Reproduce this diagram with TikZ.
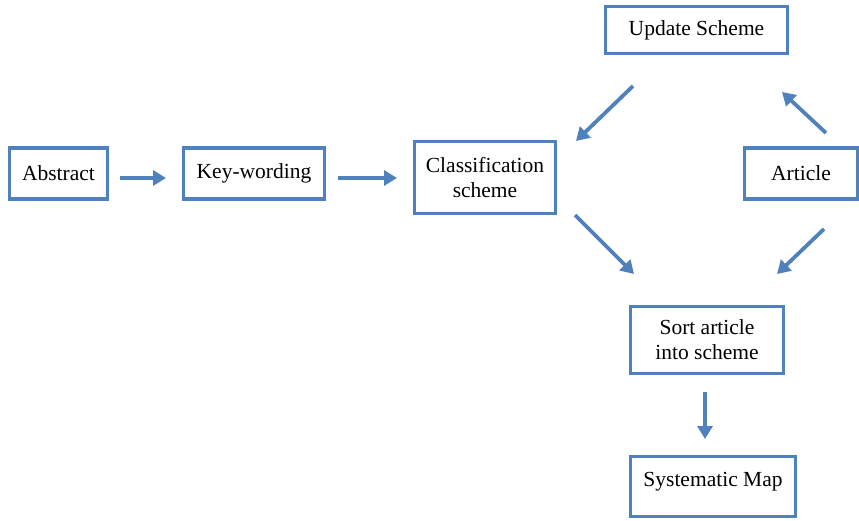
\documentclass[tikz,border=0pt]{standalone}
\usepackage{fontspec}
\setmainfont{Liberation Serif}
\usetikzlibrary{arrows.meta,shadows}
\definecolor{boxblue}{HTML}{4F81BD}
\begin{document}
\begin{tikzpicture}[x=1pt,y=-1pt,
  box/.style={draw=boxblue,line width=3.4pt,fill=white,align=center,
    font=\fontsize{21.5}{25}\selectfont,inner sep=0pt,
    drop shadow={opacity=0.25,shadow xshift=1pt,shadow yshift=-1.5pt,fill=black}},
  conn/.style={draw=boxblue,line width=3.8pt,-{Triangle[length=13pt,width=15pt]}}]
\useasboundingbox (0,0) rectangle (859,521);
\node[box,minimum width=98pt,minimum height=51pt] (abs) at (58.5,173.5) {Abstract};
\node[box,minimum width=141pt,minimum height=51pt] (key) at (254,173.5) {Key-wording};
\node[box,minimum width=141pt,minimum height=72pt] (cls) at (485,177.5) {Classification\\scheme};
\node[box,minimum width=182pt,minimum height=47pt] (upd) at (696.5,30) {Update Scheme};
\node[box,minimum width=113pt,minimum height=51pt] (art) at (801,173.5) {Article};
\node[box,minimum width=153pt,minimum height=67pt] (sort) at (707,340) {Sort article\\into scheme};
\node[box,minimum width=165pt,minimum height=60pt,text depth=14pt] (map) at (713,486.5) {Systematic Map};
\coordinate (a1s) at (120,178); \coordinate (a1e) at (166,178);
\coordinate (a2s) at (338,178); \coordinate (a2e) at (397,178);
\coordinate (a3s) at (633,86);  \coordinate (a3e) at (576,141);
\coordinate (a4s) at (826,133); \coordinate (a4e) at (782,92);
\coordinate (a5s) at (575,215); \coordinate (a5e) at (634,274);
\coordinate (a6s) at (824,229); \coordinate (a6e) at (777,274);
\coordinate (a7s) at (705,392); \coordinate (a7e) at (705,439);
\draw[conn] (a1s) -- (a1e);
\draw[conn] (a2s) -- (a2e);
\draw[conn] (a3s) -- (a3e);
\draw[conn] (a4s) -- (a4e);
\draw[conn] (a5s) -- (a5e);
\draw[conn] (a6s) -- (a6e);
\draw[conn] (a7s) -- (a7e);
\end{tikzpicture}
\end{document}
